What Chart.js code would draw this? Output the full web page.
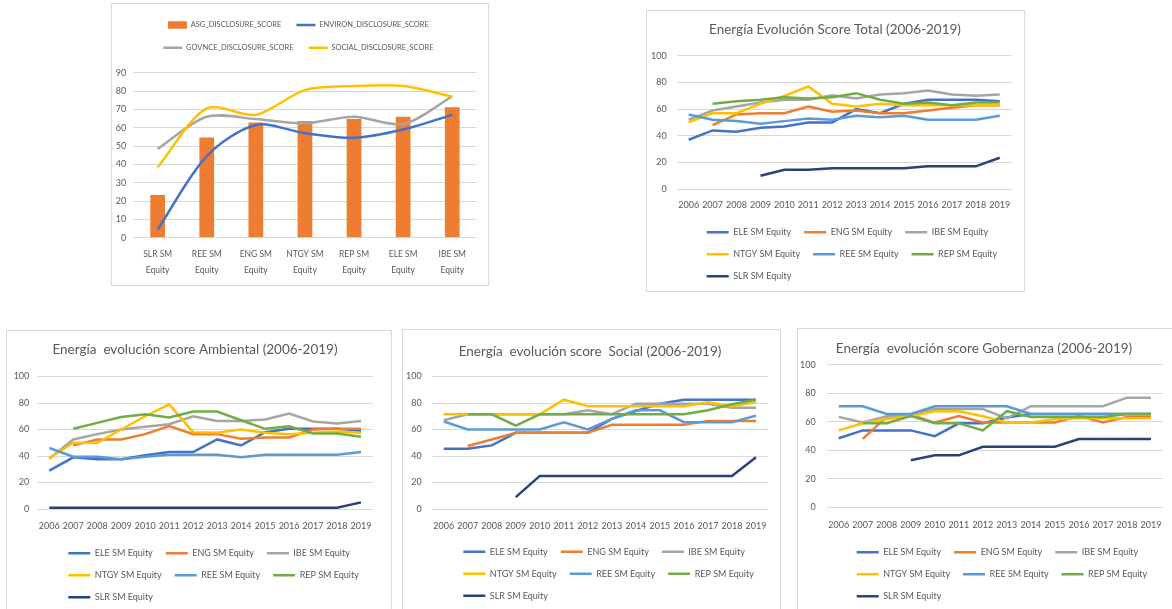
<!DOCTYPE html>
<html>
<head>
<meta charset="utf-8">
<script src="https://cdn.jsdelivr.net/npm/chart.js@4.4.1/dist/chart.umd.min.js"></script>
<style>
  html, body { margin: 0; padding: 0; background: #fff; }
  body { width: 1172px; height: 609px; position: relative; overflow: hidden; }
  .box { position: absolute; outline: 1px solid #d9d9d9; background: #fff; }
  canvas { display: block; }
</style>
</head>
<body>
<div class="box" style="left:112px;top:4px;"><canvas id="scoreChart" width="376" height="281"></canvas></div>
<div class="box" style="left:647px;top:11px;"><canvas id="totalChart" width="377" height="280"></canvas></div>
<div class="box" style="left:7px;top:331px;"><canvas id="envChart" width="384" height="290"></canvas></div>
<div class="box" style="left:403px;top:330px;"><canvas id="socChart" width="377" height="290"></canvas></div>
<div class="box" style="left:798px;top:329px;"><canvas id="govChart" width="378" height="290"></canvas></div>

<script>
const FONT = "Lato, 'Liberation Sans', sans-serif";
const TEXT = "#595959";
const GRID = "#d9d9d9";

// --- top left: disclosure scores per company ---
const companies = [["SLR SM", "Equity"], ["REE SM", "Equity"], ["ENG SM", "Equity"], ["NTGY SM", "Equity"], ["REP SM", "Equity"], ["ELE SM", "Equity"], ["IBE SM", "Equity"]];
const asgScore = [23.3, 54.7, 62.9, 63.6, 64.7, 66, 71.1];
const environScore = [4.5, 44.5, 61.5, 57, 54.5, 59, 67];
const govnceScore = [48.4, 66, 64.7, 62.4, 66, 62, 77];
const socialScore = [38.4, 70.5, 67, 80.5, 82.7, 82.7, 77];

// --- evolution charts ---
const years = ["2006", "2007", "2008", "2009", "2010", "2011", "2012", "2013", "2014", "2015", "2016", "2017", "2018", "2019"];
const tickers = ["ELE SM Equity", "ENG SM Equity", "IBE SM Equity", "NTGY SM Equity", "REE SM Equity", "REP SM Equity", "SLR SM Equity"];
const tickerColors = ["#4472C4", "#ED7D31", "#A5A5A5", "#FFC000", "#5B9BD5", "#70AD47", "#264478"];

// score total
const totalELE = [37, 44, 43, 46, 47, 50, 50, 60, 57, 64, 67, 67, 67, 66];
const totalENG = [null, 48, 56, 57, 57, 62, 58, 59, 57, 57, 59, 61, 63, 63];
const totalIBE = [52, 59, 62, 65, 67, 67, 70.5, 68, 71, 72, 74, 71, 70, 71];
const totalNTGY = [50, 57, 57, 64, 70, 77, 64, 62, 64, 63, 63, 63, 63, 63];
const totalREE = [56, 52, 51, 49, 51, 53, 52, 55, 54, 55, 52, 52, 52, 55];
const totalREP = [null, 64, 66, 67, 69, 68, 69, 72, 67, 64, 65, 63, 65, 65];
const totalSLR = [null, null, null, 10, 14.5, 14.5, 15.5, 15.5, 15.5, 15.5, 17, 17, 17, 23.5];

// score ambiental
const envELE = [29, 39, 37.5, 37.5, 40.5, 43, 43, 52.5, 48, 58, 60.5, 60.5, 60.5, 59];
const envENG = [null, 48, 52.5, 52.5, 56.5, 62.5, 56.5, 56.5, 53, 54, 54, 60, 60.5, 60.5];
const envIBE = [38, 52.5, 56.5, 60, 62, 64, 70, 66.5, 66.5, 67.5, 72, 66, 64.5, 66.5];
const envNTGY = [38.5, 50, 50, 60, 70, 79, 58, 57.5, 60, 57.5, 56.5, 57.5, 58.5, 57.5];
const envREE = [46, 39.5, 39.5, 37.5, 39.5, 41, 41, 41, 39, 41, 41, 41, 41, 43];
const envREP = [null, 60.5, 65, 69.5, 71.5, 69, 73.5, 73.5, 67, 60.5, 62.5, 57, 57, 54.5];
const envSLR = [1, 1, 1, 1, 1, 1, 1, 1, 1, 1, 1, 1, 1, 5];

// score social
const socELE = [45.5, 45.5, 48, 57.5, 57.5, 57.5, 57.5, 68, 74, 79.5, 82.5, 82.5, 82.5, 82.5];
const socENG = [null, 47.5, 52.5, 57.5, 57.5, 57.5, 57.5, 63.5, 63.5, 63.5, 63.5, 66.5, 66.5, 66.5];
const socIBE = [67, 71.5, 71.5, 71.5, 71.5, 71.5, 74.5, 71.5, 79.5, 79.5, 79.5, 79.5, 76.5, 76.5];
const socNTGY = [71.5, 71.5, 71.5, 71.5, 71.5, 82.5, 77.5, 77.5, 77.5, 77.5, 77.5, 80.5, 77.5, 80.5];
const socREE = [66, 60, 60, 60, 60, 65.5, 60, 68, 74.5, 74.5, 65.5, 65.5, 65.5, 70.5];
const socREP = [null, 71.5, 71.5, 63, 71.5, 71.5, 71.5, 71.5, 71.5, 71.5, 71.5, 74.5, 79, 82.5];
const socSLR = [null, null, null, 9, 25, 25, 25, 25, 25, 25, 25, 25, 25, 39];

// score gobernanza
const govELE = [48.5, 54, 54, 54, 50, 59, 59, 63, 65.5, 65.5, 65.5, 65.5, 65.5, 65.5];
const govENG = [null, 48, 63.5, 65, 59.5, 64, 59.5, 59.5, 59.5, 59.5, 64, 59.5, 63.5, 63.5];
const govIBE = [63.5, 59.5, 64, 65, 69, 69, 69, 62.5, 71, 71, 71, 71, 77, 77];
const govNTGY = [54, 59, 62, 64, 67.5, 67.5, 64, 59.5, 59.5, 62, 62.5, 62.5, 62.5, 62.5];
const govREE = [71, 71, 65.5, 65.5, 71, 71, 71, 71, 65.5, 65.5, 65.5, 65.5, 65.5, 65.5];
const govREP = [null, 59, 59, 64, 59, 59, 54, 67.5, 63.5, 63.5, 63.5, 63.5, 65.5, 65.5];
const govSLR = [null, null, null, 33, 36.5, 36.5, 42.5, 42.5, 42.5, 42.5, 48, 48, 48, 48];

// moves legend / title boxes after layout (Excel puts them where chart.js doesn't)
const place = {
  id: "place",
  afterLayout(chart, args, opts) {
    const lg = chart.legend;
    if (lg && opts.legendX !== undefined) {
      const w = lg.right - lg.left, h = lg.bottom - lg.top;
      lg.left = opts.legendX; lg.right = opts.legendX + w;
      lg.top = opts.legendY; lg.bottom = opts.legendY + h;
    }
    const tb = chart.titleBlock;
    if (tb && opts.titleDx) {
      tb.left += opts.titleDx;
      tb.right += opts.titleDx;
    }
  },
};

const byIndex = (a, b) => a.datasetIndex - b.datasetIndex;

new Chart(document.getElementById("scoreChart"), {
  type: "bar",
  data: {
    labels: companies,
    datasets: [
      {
        label: "ASG_DISCLOSURE_SCORE",
        data: asgScore,
        backgroundColor: "#ED7D31",
        barPercentage: 0.3,
        categoryPercentage: 1,
        pointStyle: "rect",
        order: 5,
      },
      {
        type: "line",
        label: "ENVIRON_DISCLOSURE_SCORE",
        data: environScore,
        borderColor: "#4472C4",
        backgroundColor: "#4472C4",
        borderWidth: 2.5,
        pointRadius: 0,
        pointStyle: "line",
        tension: 0.3,
        order: 3,
      },
      {
        type: "line",
        label: "GOVNCE_DISCLOSURE_SCORE",
        data: govnceScore,
        borderColor: "#A5A5A5",
        backgroundColor: "#A5A5A5",
        borderWidth: 2.5,
        pointRadius: 0,
        pointStyle: "line",
        tension: 0.3,
        order: 2,
      },
      {
        type: "line",
        label: "SOCIAL_DISCLOSURE_SCORE",
        data: socialScore,
        borderColor: "#FFC000",
        backgroundColor: "#FFC000",
        borderWidth: 2.5,
        pointRadius: 0,
        pointStyle: "line",
        tension: 0.3,
        order: 1,
      },
    ],
  },
  options: {
    responsive: false,
    animation: false,
    events: [],
    layout: { padding: { top: 13.3, right: 11.2, bottom: 2.3, left: 0 } },
    plugins: {
      title: { display: false },
      tooltip: { enabled: false },
      legend: {
        position: "top",
        align: "center",
        labels: {
          color: TEXT,
          font: { family: FONT, size: 7.5 },
          usePointStyle: true,
          pointStyleWidth: 19,
          padding: 15.2,
          sort: byIndex,
        },
      },
      place: { legendX: 4, legendY: 2.05 },
    },
    scales: {
      x: {
        grid: { display: false },
        border: { display: false },
        ticks: { color: TEXT, font: { family: FONT, size: 8.5, lineHeight: 1.88 }, padding: 1, maxRotation: 0, autoSkip: false },
        afterFit: (s) => { s.height = 45; },
      },
      y: {
        min: 0,
        max: 90,
        ticks: { stepSize: 10, color: TEXT, font: { family: FONT, size: 9 }, padding: 7 },
        grid: { color: GRID, drawTicks: false },
        border: { display: false },
        afterFit: (s) => { s.width = 21.1; },
      },
    },
  },
  plugins: [place],
});

function trendChart(id, title, series, cfg) {
  return new Chart(document.getElementById(id), {
    type: "line",
    data: {
      labels: years,
      datasets: series.map((vals, i) => ({
        label: tickers[i],
        data: vals,
        borderColor: tickerColors[i],
        backgroundColor: tickerColors[i],
        borderWidth: 2.5,
        pointRadius: 0,
        tension: 0,
        order: series.length - i,
      })),
    },
    options: {
      responsive: false,
      animation: false,
      events: [],
      layout: { padding: { top: 0, right: cfg.padRight, bottom: cfg.padBottom, left: 0 } },
      plugins: {
        title: {
          display: true,
          text: title,
          color: TEXT,
          font: { family: FONT, size: 13.5, weight: "normal" },
          padding: { top: cfg.titleTop, bottom: cfg.titleBottom },
        },
        tooltip: { enabled: false },
        legend: {
          position: "bottom",
          align: "start",
          labels: {
            color: TEXT,
            font: { family: FONT, size: 9 },
            usePointStyle: true,
            pointStyle: "line",
            pointStyleWidth: 22,
            padding: 13,
            sort: byIndex,
          },
        },
        place: { legendX: cfg.legendX, legendY: cfg.legendY, titleDx: cfg.titleDx },
      },
      scales: {
        x: {
          offset: true,
          grid: { display: false },
          border: { display: false },
          ticks: { color: TEXT, font: { family: FONT, size: 9 }, padding: cfg.xPad, maxRotation: 0, autoSkip: false },
          afterFit: (s) => { s.height = cfg.xHeight; },
        },
        y: {
          min: 0,
          max: 100,
          ticks: { stepSize: 20, color: TEXT, font: { family: FONT, size: 9 }, padding: cfg.yPad },
          grid: { color: GRID, drawTicks: false },
          border: { display: false },
          afterFit: (s) => { s.width = cfg.yWidth; },
        },
      },
    },
    plugins: [place],
  });
}

trendChart("totalChart", "Energía Evolución Score Total (2006-2019)",
  [totalELE, totalENG, totalIBE, totalNTGY, totalREE, totalREP, totalSLR],
  { padRight: 12.3, padBottom: 1, titleTop: 10.7, titleBottom: 18, xPad: 2.2, xHeight: 25, yWidth: 29.7, yPad: 10, legendX: 46.7, legendY: 203.7, titleDx: 5.65 });

trendChart("envChart", "Energía  evolución score Ambiental (2006-2019)",
  [envELE, envENG, envIBE, envNTGY, envREE, envREP, envSLR],
  { padRight: 18, padBottom: 8, titleTop: 11, titleBottom: 18.3, xPad: 3.9, xHeight: 28, yWidth: 30.3, yPad: 8, legendX: 48.3, legendY: 204.7, titleDx: 5 });

trendChart("socChart", "Energía  evolución score  Social (2006-2019)",
  [socELE, socENG, socIBE, socNTGY, socREE, socREP, socSLR],
  { padRight: 12, padBottom: 7, titleTop: 14, titleBottom: 16.3, xPad: 3.2, xHeight: 28, yWidth: 28.7, yPad: 10, legendX: 47.3, legendY: 204.2, titleDx: 4.5 });

trendChart("govChart", "Energía  evolución score Gobernanza (2006-2019)",
  [govELE, govENG, govIBE, govNTGY, govREE, govREP, govSLR],
  { padRight: 13, padBottom: 7.7, titleTop: 12, titleBottom: 7.7, xPad: 4.7, xHeight: 28, yWidth: 28.7, yPad: 11, legendX: 45.7, legendY: 205.7, titleDx: 3.5 });
</script>
</body>
</html>
